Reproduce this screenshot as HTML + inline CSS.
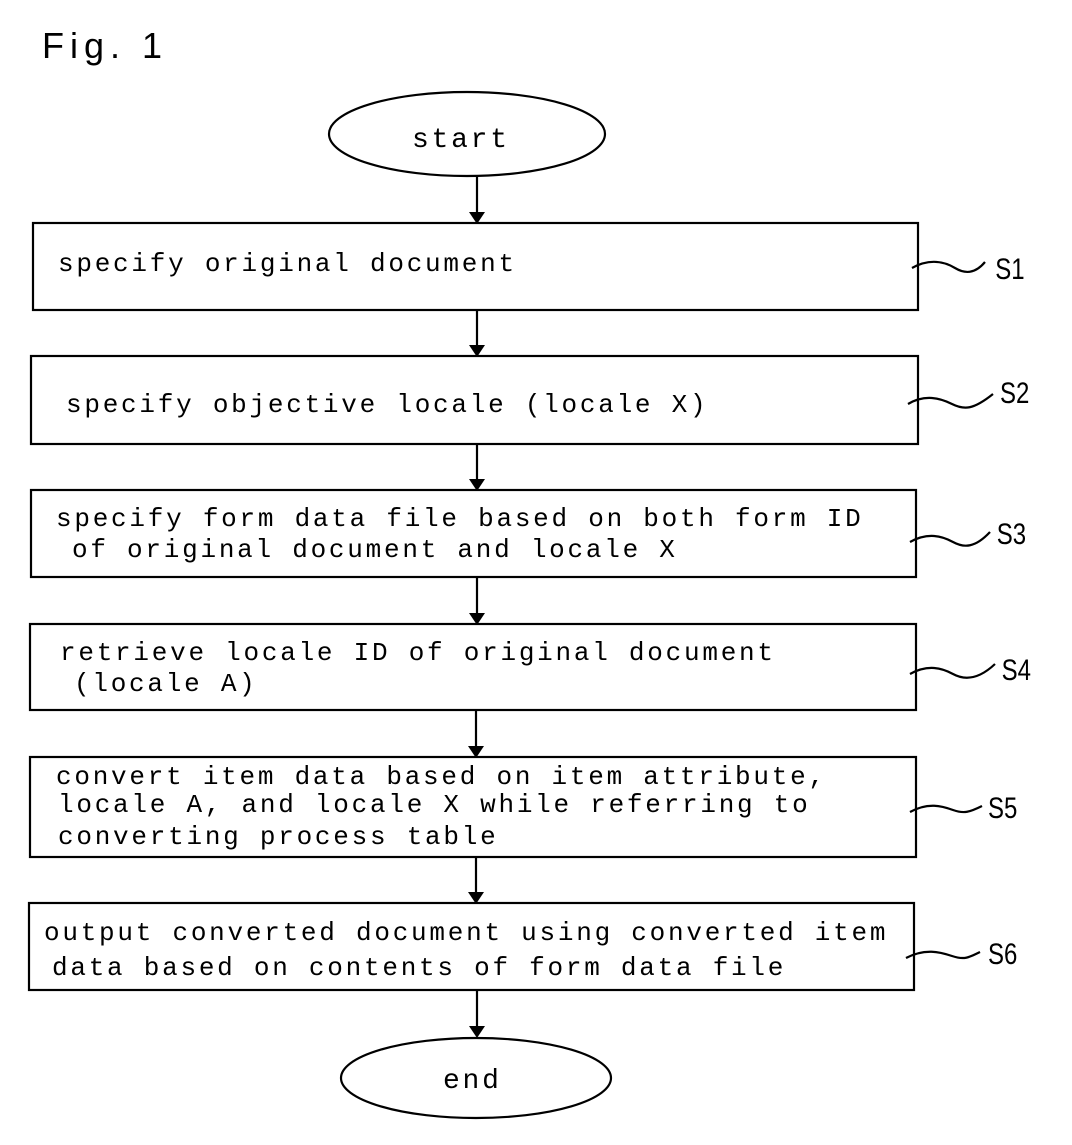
<!DOCTYPE html>
<html><head><meta charset="utf-8"><style>
html,body{margin:0;padding:0;background:#fff;}
svg{display:block}
.t{font-family:"Liberation Mono",monospace;font-size:26px;letter-spacing:2.75px;fill:#000;}
.s{font-family:"Liberation Sans",sans-serif;font-size:30px;fill:#000;}
</style></head><body>
<svg width="1072" height="1145" viewBox="0 0 1072 1145" xmlns="http://www.w3.org/2000/svg">
<text x="42" y="58" font-family="Liberation Sans,sans-serif" font-size="36" letter-spacing="6">Fig. 1</text>
<g fill="none" stroke="#000" stroke-width="2.2">
<ellipse cx="467" cy="134" rx="138" ry="42"/>
<rect x="33" y="223" width="885" height="87"/>
<rect x="31" y="356" width="887" height="88"/>
<rect x="31" y="490" width="885" height="87"/>
<rect x="30" y="624" width="886" height="86"/>
<rect x="30" y="757" width="886" height="100"/>
<rect x="29" y="903" width="885" height="87"/>
<ellipse cx="476" cy="1078" rx="135" ry="40"/>
<path d="M477 176V212M477 310V345M477 444V479M477 577V613M476 710V746M476 857V892M477 990V1026"/>
<path d="M912 268C930 258 945 262 955 268S975 274 985 262"/>
<path d="M908 404C925 394 940 398 952 404S973 410 993 394"/>
<path d="M910 542C928 532 942 536 953 542S975 548 990 532"/>
<path d="M910 674C928 664 942 668 953 674S978 680 995 664"/>
<path d="M910 812C928 802 942 806 953 810S970 812 982 806"/>
<path d="M906 958C925 948 940 952 952 956S968 958 980 952"/>
</g>
<g fill="#000">
<path d="M469 212L485 212L477 224Z"/><path d="M469 345L485 345L477 357Z"/>
<path d="M469 479L485 479L477 491Z"/><path d="M469 613L485 613L477 625Z"/>
<path d="M468 746L484 746L476 758Z"/><path d="M468 892L484 892L476 904Z"/>
<path d="M469 1026L485 1026L477 1038Z"/>
</g>
<text class="t" x="412" y="147" style="font-size:28px">start</text>
<text class="t" x="58" y="271">specify original document</text>
<text class="t" x="66" y="412">specify objective locale (locale X)</text>
<text class="t" x="56" y="526">specify form data file based on both form ID</text>
<text class="t" x="72" y="557">of original document and locale X</text>
<text class="t" x="60" y="660">retrieve locale ID of original document</text>
<text class="t" x="74" y="691">(locale A)</text>
<text class="t" x="56" y="784">convert item data based on item attribute,</text>
<text class="t" x="58" y="812">locale A, and locale X while referring to</text>
<text class="t" x="58" y="844">converting process table</text>
<text class="t" x="44" y="940">output converted document using converted item</text>
<text class="t" x="52" y="975">data based on contents of form data file</text>
<text class="t" x="443" y="1088" style="font-size:28px">end</text>
<g class="s" transform="scale(0.8,1)">
<text x="1244" y="279">S1</text>
<text x="1250" y="403">S2</text>
<text x="1246" y="544">S3</text>
<text x="1252" y="680">S4</text>
<text x="1235" y="818">S5</text>
<text x="1235" y="964">S6</text>
</g>
</svg>
</body></html>
